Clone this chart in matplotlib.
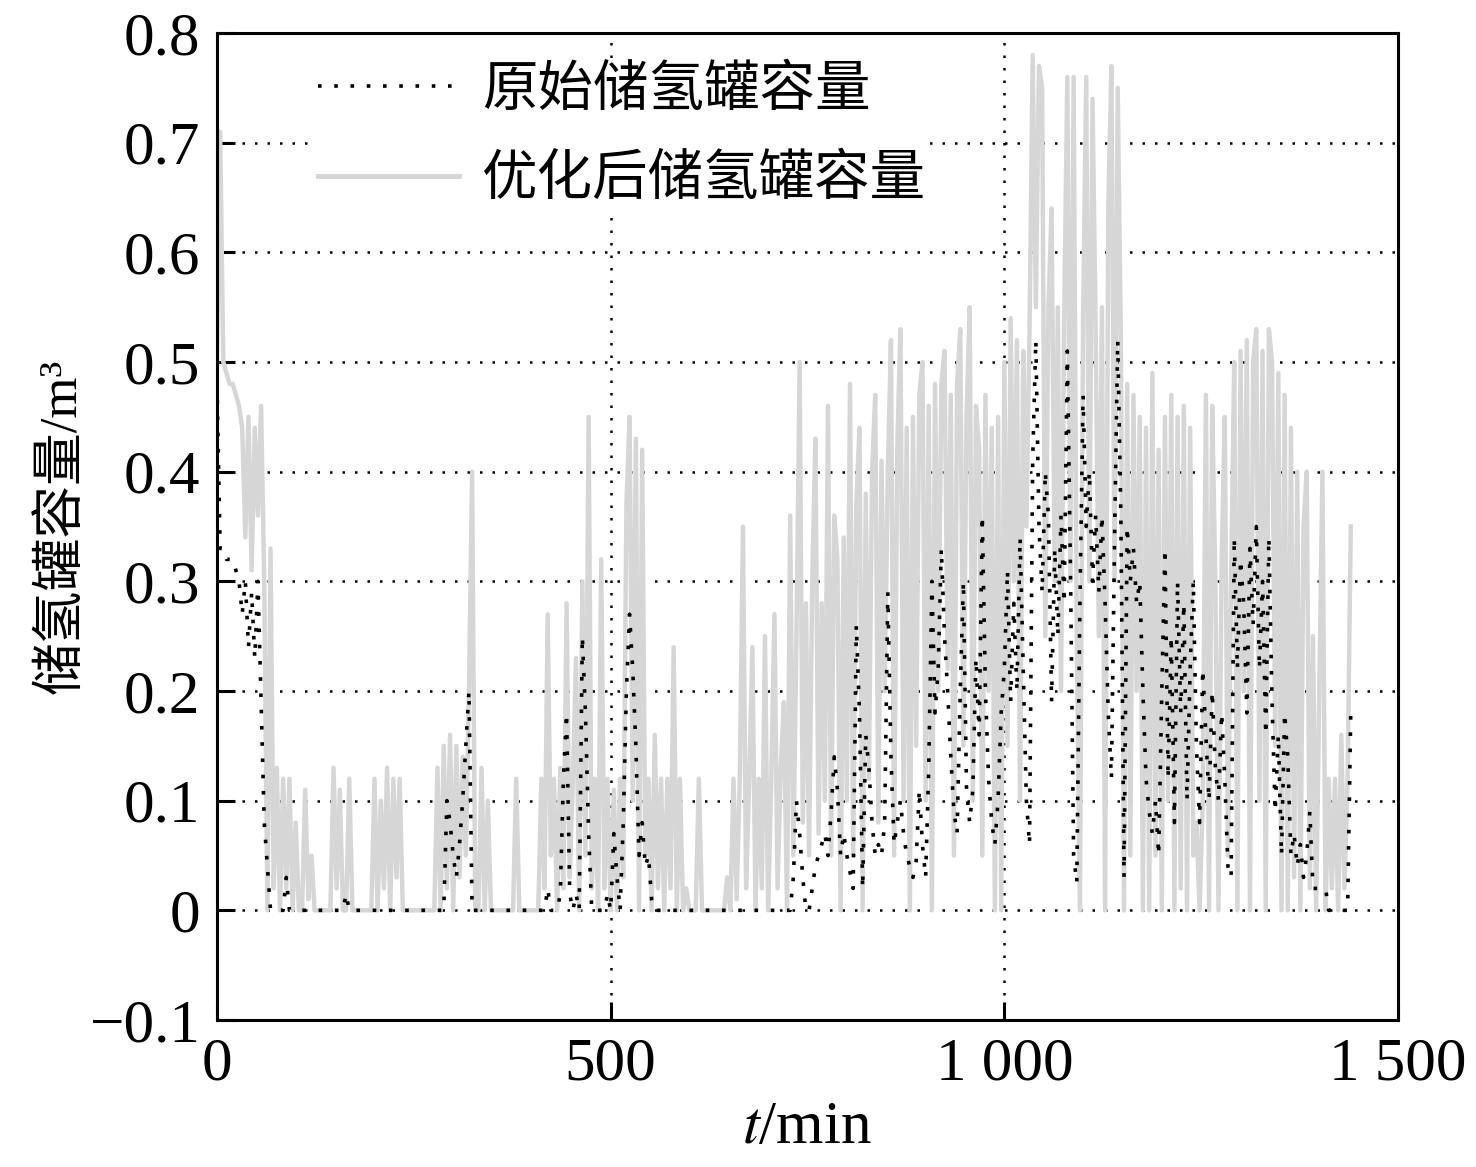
import numpy as np
import matplotlib
matplotlib.use('Agg')
import matplotlib.pyplot as plt

plt.rcParams['font.family'] = ['Liberation Serif', 'Noto Sans CJK SC']
plt.rcParams['mathtext.fontset'] = 'stix'

# readings every 4 min, t = 0 ... 1440
step = 4

# original hydrogen tank capacity (m3)
original = [
    0.48, 0.33, 0.33, 0.32, 0.32, 0.32, 0.31, 0.30, 0.27, 0.30,
    0.24, 0.29, 0.23, 0.30, 0.19, 0.08, 0.04, 0.00, 0.00, 0.00,
    0.00, 0.00, 0.03, 0.00, 0.00, 0.00, 0.00, 0.00, 0.00, 0.00,
    0.00, 0.00, 0.00, 0.00, 0.00, 0.00, 0.00, 0.00, 0.00, 0.00,
    0.00, 0.015, 0.00, 0.00, 0.00, 0.00, 0.00, 0.00, 0.00, 0.00,
    0.00, 0.00, 0.00, 0.00, 0.00, 0.00, 0.00, 0.00, 0.00, 0.00,
    0.00, 0.00, 0.00, 0.00, 0.00, 0.00, 0.00, 0.00, 0.00, 0.00,
    0.00, 0.00, 0.00, 0.10, 0.08, 0.05, 0.03, 0.06, 0.10, 0.15,
    0.20, 0.00, 0.00, 0.00, 0.00, 0.00, 0.00, 0.00, 0.00, 0.00,
    0.00, 0.00, 0.00, 0.00, 0.00, 0.00, 0.00, 0.00, 0.00, 0.00,
    0.00, 0.00, 0.00, 0.00, 0.00, 0.02, 0.00, 0.00, 0.00, 0.015,
    0.12, 0.18, 0.015, 0.00, 0.015, 0.00, 0.25, 0.18, 0.07, 0.00,
    0.00, 0.00, 0.00, 0.00, 0.015, 0.00, 0.07, 0.03, 0.00, 0.08,
    0.20, 0.27, 0.22, 0.15, 0.05, 0.08, 0.04, 0.05, 0.01, 0.00,
    0.00, 0.00, 0.00, 0.00, 0.00, 0.00, 0.00, 0.00, 0.00, 0.00,
    0.00, 0.00, 0.00, 0.00, 0.00, 0.00, 0.00, 0.00, 0.00, 0.00,
    0.00, 0.00, 0.00, 0.00, 0.00, 0.00, 0.00, 0.00, 0.00, 0.00,
    0.00, 0.00, 0.00, 0.00, 0.00, 0.00, 0.00, 0.00, 0.00, 0.00,
    0.00, 0.00, 0.00, 0.03, 0.10, 0.07, 0.03, 0.00, 0.00, 0.02,
    0.04, 0.05, 0.06, 0.07, 0.05, 0.09, 0.14, 0.11, 0.05, 0.07,
    0.05, 0.035, 0.02, 0.26, 0.18, 0.02, 0.16, 0.13, 0.08, 0.05,
    0.06, 0.05, 0.08, 0.29, 0.14, 0.06, 0.08, 0.10, 0.07, 0.05,
    0.04, 0.03, 0.045, 0.11, 0.06, 0.03, 0.13, 0.30, 0.18, 0.22,
    0.33, 0.25, 0.20, 0.14, 0.09, 0.07, 0.20, 0.30, 0.11, 0.08,
    0.11, 0.23, 0.16, 0.36, 0.20, 0.12, 0.08, 0.06, 0.10, 0.18,
    0.22, 0.31, 0.19, 0.28, 0.20, 0.34, 0.22, 0.10, 0.06, 0.41,
    0.52, 0.35, 0.29, 0.40, 0.36, 0.19, 0.33, 0.25, 0.36, 0.28,
    0.51, 0.31, 0.05, 0.025, 0.28, 0.47, 0.35, 0.40, 0.30, 0.36,
    0.29, 0.36, 0.28, 0.18, 0.12, 0.34, 0.52, 0.36, 0.03, 0.35,
    0.30, 0.33, 0.28, 0.30, 0.20, 0.12, 0.09, 0.07, 0.10, 0.05,
    0.20, 0.33, 0.12, 0.25, 0.08, 0.30, 0.18, 0.28, 0.10, 0.22,
    0.30, 0.15, 0.08, 0.22, 0.16, 0.10, 0.20, 0.13, 0.10, 0.18,
    0.12, 0.04, 0.03, 0.34, 0.22, 0.32, 0.28, 0.18, 0.33, 0.26,
    0.35, 0.22, 0.30, 0.16, 0.34, 0.19, 0.09, 0.16, 0.05, 0.18,
    0.14, 0.05, 0.07, 0.04, 0.06, 0.03, 0.05, 0.09, 0.02, 0.02,
    0.02, 0.02, 0.02, 0.00, 0.00, 0.00, 0.00, 0.00, 0.00, 0.00,
    0.18,
]

# optimized hydrogen tank capacity (m3)
optimized = [
    0.50, 0.71, 0.50, 0.49, 0.48, 0.48, 0.47, 0.46, 0.44, 0.34,
    0.45, 0.31, 0.44, 0.36, 0.46, 0.30, 0.00, 0.33, 0.02, 0.13,
    0.00, 0.12, 0.02, 0.12, 0.00, 0.08, 0.00, 0.00, 0.11, 0.01,
    0.05, 0.00, 0.00, 0.00, 0.00, 0.00, 0.00, 0.13, 0.02, 0.11,
    0.00, 0.00, 0.12, 0.00, 0.00, 0.00, 0.00, 0.00, 0.00, 0.00,
    0.12, 0.00, 0.10, 0.02, 0.13, 0.00, 0.12, 0.03, 0.12, 0.00,
    0.00, 0.00, 0.00, 0.00, 0.00, 0.00, 0.00, 0.00, 0.00, 0.00,
    0.13, 0.00, 0.15, 0.02, 0.16, 0.00, 0.15, 0.03, 0.14, 0.05,
    0.20, 0.40, 0.00, 0.00, 0.13, 0.00, 0.10, 0.00, 0.00, 0.00,
    0.00, 0.00, 0.00, 0.00, 0.00, 0.12, 0.00, 0.00, 0.00, 0.00,
    0.00, 0.00, 0.00, 0.12, 0.02, 0.27, 0.05, 0.12, 0.00, 0.13,
    0.02, 0.28, 0.03, 0.12, 0.23, 0.00, 0.30, 0.05, 0.45, 0.02,
    0.12, 0.00, 0.32, 0.02, 0.12, 0.00, 0.11, 0.00, 0.12, 0.03,
    0.37, 0.45, 0.10, 0.43, 0.00, 0.42, 0.05, 0.12, 0.00, 0.16,
    0.02, 0.12, 0.00, 0.12, 0.02, 0.24, 0.00, 0.12, 0.00, 0.02,
    0.00, 0.00, 0.00, 0.12, 0.00, 0.00, 0.00, 0.00, 0.00, 0.00,
    0.00, 0.00, 0.03, 0.00, 0.12, 0.01, 0.12, 0.35, 0.02, 0.12,
    0.24, 0.00, 0.12, 0.02, 0.25, 0.00, 0.12, 0.27, 0.02, 0.13,
    0.19, 0.00, 0.36, 0.05, 0.25, 0.50, 0.08, 0.28, 0.05, 0.30,
    0.43, 0.07, 0.28, 0.10, 0.46, 0.05, 0.36, 0.32, 0.00, 0.34,
    0.10, 0.48, 0.05, 0.37, 0.44, 0.00, 0.38, 0.12, 0.40, 0.47,
    0.08, 0.41, 0.20, 0.40, 0.52, 0.05, 0.42, 0.53, 0.10, 0.44,
    0.00, 0.45, 0.15, 0.47, 0.50, 0.10, 0.46, 0.00, 0.48, 0.20,
    0.48, 0.51, 0.22, 0.47, 0.05, 0.48, 0.53, 0.15, 0.45, 0.55,
    0.10, 0.46, 0.42, 0.05, 0.47, 0.20, 0.44, 0.00, 0.45, 0.00,
    0.50, 0.15, 0.54, 0.30, 0.52, 0.10, 0.51, 0.35, 0.53, 0.78,
    0.55, 0.77, 0.75, 0.25, 0.55, 0.64, 0.30, 0.55, 0.20, 0.54,
    0.76, 0.30, 0.76, 0.25, 0.00, 0.54, 0.76, 0.30, 0.74, 0.53,
    0.25, 0.55, 0.00, 0.64, 0.77, 0.30, 0.75, 0.52, 0.00, 0.48,
    0.05, 0.47, 0.20, 0.45, 0.00, 0.44, 0.00, 0.49, 0.05, 0.42,
    0.00, 0.45, 0.10, 0.47, 0.00, 0.45, 0.02, 0.46, 0.00, 0.44,
    0.05, 0.08, 0.00, 0.10, 0.47, 0.00, 0.46, 0.30, 0.00, 0.32,
    0.45, 0.05, 0.30, 0.50, 0.00, 0.51, 0.20, 0.52, 0.00, 0.50,
    0.53, 0.10, 0.51, 0.00, 0.53, 0.50, 0.15, 0.49, 0.00, 0.47,
    0.00, 0.44, 0.03, 0.40, 0.00, 0.35, 0.40, 0.02, 0.25, 0.00,
    0.20, 0.40, 0.00, 0.12, 0.02, 0.12, 0.00, 0.16, 0.02, 0.12,
    0.35,
]

x_ticks = [0, 500, 1000, 1500]
x_labels = ['0', '500', '1 000', '1 500']
y_ticks = [-0.1, 0, 0.1, 0.2, 0.3, 0.4, 0.5, 0.6, 0.7, 0.8]
y_labels = ['\u22120.1', '0', '0.1', '0.2', '0.3', '0.4', '0.5', '0.6', '0.7', '0.8']

t_orig = np.arange(len(original)) * step
t_opt = np.arange(len(optimized)) * step

fig = plt.figure(figsize=(14.76, 11.67), dpi=100)
ax = fig.add_axes([217 / 1476, 1 - 1020 / 1167, 1181 / 1476, 987 / 1167])

ax.plot(t_opt, optimized, color='#d6d6d6', linewidth=3.2, label='优化后储氢罐容量', zorder=2)
ax.plot(t_orig, original, color='black', linewidth=2.6, linestyle=(0, (1, 3.5)),
        label='原始储氢罐容量', zorder=3)

ax.set_xlim(0, 1500)
ax.set_ylim(-0.1, 0.8)
ax.set_xticks(x_ticks)
ax.set_xticklabels(x_labels)
ax.set_yticks(y_ticks)
ax.set_yticklabels(y_labels)

ax.set_axisbelow(True)
ax.grid(True, color='black', linestyle=(0, (1, 4)), linewidth=1.8)

for sp in ax.spines.values():
    sp.set_linewidth(2.2)
ax.tick_params(direction='in', length=13, width=2.2, labelsize=44, pad=12)

ax.set_xlabel('$t$/min', fontsize=44, labelpad=6)
ax.set_ylabel('储氢罐容量/m³', fontsize=38, labelpad=2)

# legend: dotted first, grey second
h, l = ax.get_legend_handles_labels()
leg = ax.legend([h[1], h[0]], [l[1], l[0]], loc='upper left',
                bbox_to_anchor=(315 / 1476, 1 - 63 / 1167), bbox_transform=fig.transFigure,
                frameon=True, fancybox=False, edgecolor='none', facecolor='white', framealpha=1,
                prop={'size': 40}, handlelength=2.55, handletextpad=0.4,
                labelspacing=0.67, borderpad=0.05, borderaxespad=0)
leg.get_lines()[1].set_linewidth(3.5)

fig.savefig('out.png', dpi=100)
